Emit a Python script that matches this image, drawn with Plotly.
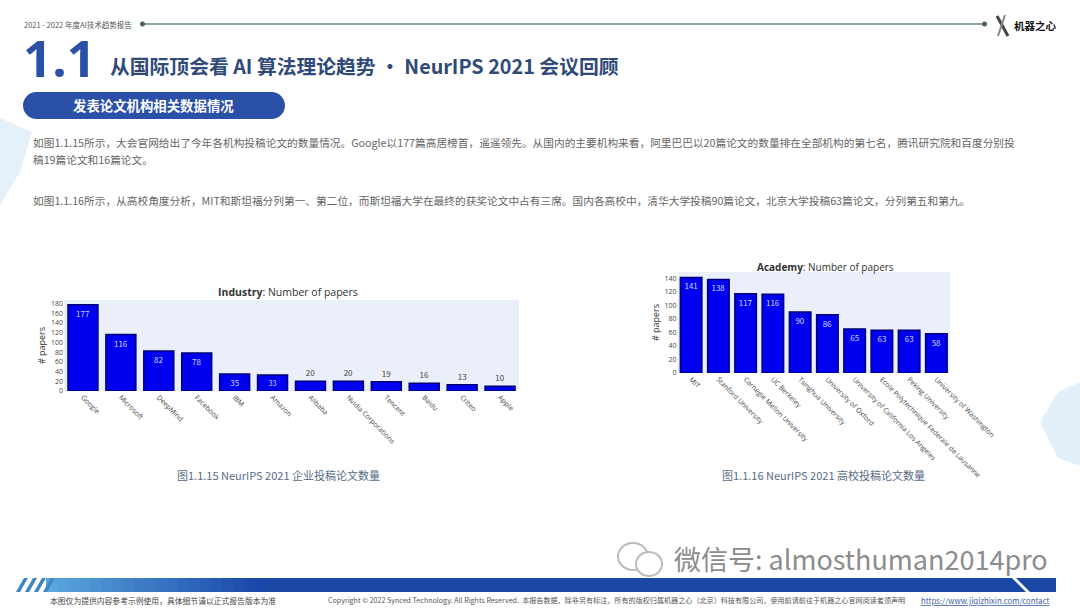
import plotly.graph_objects as go

W, H = 1080, 608

# ----- Data -----
industry_names = ["Google", "Microsoft", "DeepMind", "Facebook", "IBM", "Amazon", "Alibaba",
                  "Nvidia Corporations", "Tencent", "Baidu", "Criteo", "Apple"]
industry_papers = [177, 116, 82, 78, 35, 33, 20, 20, 19, 16, 13, 10]
academy_names = ["MIT", "Stanford University", "Carnegie Mellon University", "UC Berkeley",
                 "Tsinghua University", "University of Oxford",
                 "University of California Los Angeles",
                 "Ecole Polytechnique Federale de Lausanne", "Peking University",
                 "University of Washington"]
academy_papers = [141, 138, 117, 116, 90, 86, 65, 63, 63, 58]

para_1a = "如图1.1.15所示，大会官网给出了今年各机构投稿论文的数量情况。Google以177篇高居榜首，遥遥领先。从国内的主要机构来看，阿里巴巴以20篇论文的数量排在全部机构的第七名，腾讯研究院和百度分别投"
para_1b = "稿19篇论文和16篇论文。"
para_2 = "如图1.1.16所示，从高校角度分析，MIT和斯坦福分列第一、第二位，而斯坦福大学在最终的获奖论文中占有三席。国内各高校中，清华大学投稿90篇论文，北京大学投稿63篇论文，分列第五和第九。"

CJK = "Noto Sans CJK SC"
BLUE = "#2a50a8"


def px(x):
    return x / W


def py(y):
    return 1 - y / H


def label(x, y, s, size, color="#555", anchor="left", font=CJK, **kw):
    return dict(text=s, x=px(x), y=py(y), xref="paper", yref="paper", showarrow=False,
                xanchor=anchor, yanchor="middle", font=dict(size=size, color=color, family=font), **kw)


def rect(x0, y0, x1, y1, color, **kw):
    return dict(type="rect", xref="paper", yref="paper", x0=px(x0), x1=px(x1), y0=py(y0), y1=py(y1),
                fillcolor=color, line_width=0, **kw)


def poly(points, color, layer="below"):
    path = "M " + " L ".join(f"{px(x):.4f},{py(y):.4f}" for x, y in points) + " Z"
    return dict(type="path", xref="paper", yref="paper", path=path, fillcolor=color, line_width=0, layer=layer)


def bars(names, values, xa, ya):
    return go.Bar(x=names, y=values, text=values, textposition="auto", textangle=0, xaxis=xa, yaxis=ya,
                  marker=dict(color="#0000f0", line=dict(color="#00007a", width=1.5)),
                  insidetextfont=dict(size=8, color="#cdd8ff"),
                  outsidetextfont=dict(size=8, color="#444"), cliponaxis=False, showlegend=False)


fig = go.Figure()
fig.add_trace(bars(industry_names, industry_papers, "x", "y"))
fig.add_trace(bars(academy_names, academy_papers, "x2", "y2"))

axis_font = dict(size=7, color="#444", family="Open Sans")
shared_x = dict(tickangle=45, tickfont=axis_font, showgrid=False, ticks="", zeroline=False, automargin=False)
shared_y = dict(tickfont=axis_font, showgrid=False, zeroline=False, dtick=20, ticks="", automargin=False,
                title=dict(text="# papers", font=dict(size=9, color="#333", family="Open Sans"), standoff=3))

shapes = [
    # background decoration
    poly([(0, 118), (32, 132), (20, 172), (0, 205)], "#e4f1fb"),
    poly([(1080, 382), (1058, 392), (1040, 422), (1058, 458), (1080, 466)], "#e3f0fa"),
    # header rule
    dict(type="line", xref="paper", yref="paper", x0=px(142), x1=px(985), y0=py(24), y1=py(24),
         line=dict(color="#8fa5a0", width=2)),
    dict(type="circle", xref="paper", yref="paper", x0=px(140), x1=px(145), y0=py(26.5), y1=py(21.5),
         fillcolor="#50605c", line_width=0),
    dict(type="circle", xref="paper", yref="paper", x0=px(982), x1=px(987), y0=py(26.5), y1=py(21.5),
         fillcolor="#50605c", line_width=0),
    # logo
    dict(type="line", xref="paper", yref="paper", x0=px(997), x1=px(1008), y0=py(16), y1=py(36),
         line=dict(color="#444", width=3)),
    dict(type="line", xref="paper", yref="paper", x0=px(1005), x1=px(998), y0=py(15), y1=py(36),
         line=dict(color="#888", width=2)),
    # section pill
    dict(type="rect", xref="paper", yref="paper", x0=px(36), x1=px(272), y0=py(92), y1=py(119),
         fillcolor=BLUE, line_width=0),
    dict(type="circle", xref="paper", yref="paper", x0=px(23), x1=px(50), y0=py(119), y1=py(92),
         fillcolor=BLUE, line_width=0),
    dict(type="circle", xref="paper", yref="paper", x0=px(258), x1=px(285), y0=py(119), y1=py(92),
         fillcolor=BLUE, line_width=0),
]

# footer band, light blue fading to dark blue
steps = 20
for i in range(steps):
    t = i / (steps - 1)
    c = (int(90 - 65 * t), int(165 - 95 * t), int(220 - 50 * t))
    shapes.append(rect(46 + i * 11, 578, 46 + (i + 1) * 11 + 1, 592, f"rgb({c[0]},{c[1]},{c[2]})"))
shapes.append(rect(265, 578, 1056, 592, "#1a46a6"))
for i in range(4):
    x = 16 + i * 9
    shapes.append(poly([(x, 592), (x + 4, 592), (x + 12, 578), (x + 8, 578)], "#3f86c8", layer="above"))
shapes.append(poly([(1012, 578), (1016, 578), (1030, 592), (1026, 592)], "#ffffff", layer="above"))

annotations = [
    label(22, 24, "2021 - 2022 年度AI技术趋势报告", 7.5, "#555"),
    label(1012, 25, "<b>机器之心</b>", 10.5, "#111"),
    label(21, 57, "<b>1.1</b>", 51, BLUE, font="Open Sans", height=46, valign="middle"),
    label(108, 66, "<b>从国际顶会看 AI 算法理论趋势 · NeurIPS 2021 会议回顾</b>", 19.8, "#2f4a78"),
    label(153, 105, "<b>发表论文机构相关数据情况</b>", 13.4, "#ffffff", anchor="center"),
    label(31, 142, para_1a, 10.7, "#666"),
    label(31, 160, para_1b, 10.7, "#666"),
    label(31, 200, para_2, 10.7, "#666"),
    label(288, 292, "<b>Industry</b>: Number of papers", 10.5, "#333", anchor="center", font="Open Sans"),
    label(825, 267, "<b>Academy</b>: Number of papers", 10, "#333", anchor="center", font="Open Sans"),
    label(278, 475, "图1.1.15 NeurIPS 2021 企业投稿论文数量", 11, "#566d85", anchor="center"),
    label(823, 475, "图1.1.16 NeurIPS 2021 高校投稿论文数量", 11, "#566d85", anchor="center"),
    label(672, 558, "微信号: almosthuman2014pro", 27, "#8c8c8c", font="Noto Sans CJK SC"),
    label(48, 600, "本图仅为提供内容参考示例使用，具体细节请以正式报告版本为准", 7.8, "#444"),
    label(326, 600, "Copyright © 2022 Synced Technology. All Rights Reserved.  本报告数据，除非另有标注，所有的版权归属机器之心（北京）科技有限公司，使用前请前往于机器之心官网阅读者须声明",
          7.1, "#555"),
    label(1052, 600, "<u>https://www.jiqizhixin.com/contact</u>", 7.8, "#3b5ea8", anchor="right"),
]

# wechat bubbles next to the watermark
shapes += [
    dict(type="circle", xref="paper", yref="paper", x0=px(618), x1=px(648), y0=py(570), y1=py(543),
         fillcolor="rgba(0,0,0,0)", line=dict(color="#bbbbbb", width=2)),
    dict(type="circle", xref="paper", yref="paper", x0=px(636), x1=px(662), y0=py(576), y1=py(552),
         fillcolor="#ffffff", line=dict(color="#bbbbbb", width=2)),
]

fig.update_layout(
    width=W, height=H, margin=dict(l=0, r=0, t=0, b=0), autosize=False,
    paper_bgcolor="#ffffff", plot_bgcolor="#eaeff9", bargap=0.21,
    font=dict(family=CJK), shapes=shapes, annotations=annotations,
    xaxis=dict(domain=[px(64), px(519)], anchor="y", **shared_x),
    yaxis=dict(domain=[py(391), py(300)], anchor="x", range=[0, 187], **shared_y),
    xaxis2=dict(domain=[px(677.5), px(950)], anchor="y2", **shared_x),
    yaxis2=dict(domain=[py(373), py(272)], anchor="x2", range=[0, 149], **shared_y),
)

fig.write_html("out.html", config=dict(displayModeBar=False),
               post_script="document.body.style.margin='0';document.body.style.overflow='hidden';")
